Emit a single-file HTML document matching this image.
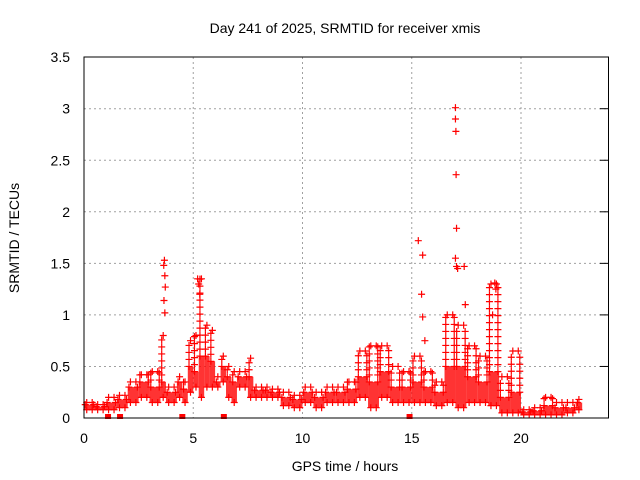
<!DOCTYPE html>
<html><head><meta charset="utf-8"><style>
html,body{margin:0;padding:0;background:#fff}
svg{display:block;font-family:"Liberation Sans",sans-serif}
</style></head><body>
<svg id="chart" width="640" height="480" viewBox="0 0 640 480">
<rect width="640" height="480" fill="#fff"/>
<text x="345" y="33" font-size="14" text-anchor="middle" fill="#000">Day 241 of 2025, SRMTID for receiver xmis</text>
<text x="345" y="471" font-size="14" text-anchor="middle" fill="#000">GPS time / hours</text>
<text transform="translate(19,238) rotate(-90)" font-size="14" text-anchor="middle" fill="#000">SRMTID / TECUs</text>
<g id="grid"></g>
<g id="marks"></g>
<rect x="84" y="57" width="524.5" height="361" fill="none" stroke="#000" stroke-width="1"/>
<g id="ticks"></g>
</svg>
<script>
const xTicks=[0,5,10,15,20];
const yTicks=[0,0.5,1,1.5,2,2.5,3,3.5];
const yTickLabels=["0","0.5","1","1.5","2","2.5","3","3.5"];
// binned cloud: time, low, dense-core top, high
const binT=[0,0.5,1,1.5,2,2.5,3,3.5,3.75,4.25,4.5,4.75,5,5.25,5.5,5.75,6,6.25,6.5,6.75,7,7.5,7.75,8.5,9,9.5,10,10.5,11,11.5,12,12.5,13,13.5,14,14.5,15,15.5,16,16.5,17,17.5,18,18.5,19,19.5,20,20.5,21,21.5,22,22.5];
const binLo=[0.08,0.08,0.08,0.1,0.15,0.2,0.15,0.2,0.15,0.2,0.15,0.25,0.3,0.2,0.3,0.3,0.3,0.35,0.2,0.15,0.3,0.2,0.2,0.2,0.12,0.1,0.15,0.1,0.15,0.15,0.15,0.2,0.1,0.2,0.15,0.15,0.15,0.15,0.12,0.15,0.1,0.15,0.15,0.12,0.05,0.05,0.03,0.03,0.03,0.03,0.05,0.08];
const binMid=[0.13,0.11,0.15,0.18,0.3,0.35,0.3,0.35,0.25,0.35,0.28,0.5,0.45,0.6,0.6,0.55,0.35,0.5,0.4,0.35,0.4,0.4,0.27,0.25,0.2,0.18,0.25,0.2,0.25,0.25,0.28,0.4,0.35,0.45,0.3,0.3,0.35,0.3,0.25,0.5,0.5,0.4,0.35,0.45,0.2,0.25,0.06,0.07,0.12,0.1,0.1,0.15];
const binHi=[0.15,0.13,0.2,0.22,0.35,0.42,0.45,0.8,0.3,0.4,0.35,0.75,0.8,1.35,0.9,0.85,0.4,0.6,0.5,0.45,0.45,0.58,0.3,0.28,0.25,0.22,0.3,0.25,0.3,0.3,0.35,0.65,0.7,0.7,0.5,0.45,0.6,0.45,0.35,1.0,0.9,0.7,0.6,1.3,0.4,0.65,0.08,0.1,0.2,0.15,0.15,0.18];
// isolated outliers
const spikeT=[3.65,3.68,3.7,3.72,3.66,3.7,5.2,5.25,5.3,15.3,15.5,15.45,15.5,15.6,17.0,17.0,17.02,17.03,17.05,17.0,17.05,17.1,17.4,17.45,18.8,18.85,18.7];
const spikeV=[1.48,1.53,1.38,1.27,1.14,1.02,1.35,1.3,1.2,1.72,1.58,1.2,0.98,0.75,3.01,2.9,2.78,2.36,1.84,1.55,1.47,1.45,1.47,1.1,1.31,1.25,1.0];
const zeroT=[1.1,1.65,4.5,6.4,14.9];
const xs=h=>84+h*21.85;
const ys=v=>418-v*103.1;
const NS='http://www.w3.org/2000/svg';
function mk(tag,at,parent){const e=document.createElementNS(NS,tag);for(const k in at)e.setAttribute(k,at[k]);parent.appendChild(e);return e;}
const grid=document.getElementById('grid'),ticks=document.getElementById('ticks'),marks=document.getElementById('marks');
xTicks.forEach(t=>{const x=xs(t);
 if(t>0){const g=mk('line',{x1:x,x2:x,y1:57,y2:418,stroke:'#a0a0a0','stroke-dasharray':'2,3'},grid);
 
 }
 const tk=mk('text',{x:x,y:443,'font-size':14,'text-anchor':'middle',fill:'#000'},ticks);tk.textContent=t;
 
 
});
yTicks.forEach((t,i)=>{const y=ys(t);
 if(t>0&&t<3.5){const g=mk('line',{x1:84,x2:608,y1:y,y2:y,stroke:'#a0a0a0','stroke-dasharray':'2,3'},grid);
 
 
 mk('line',{x1:600,x2:608,y1:y,y2:y,stroke:'#000'},ticks);}
 const tk=mk('text',{x:70,y:y+5,'font-size':14,'text-anchor':'end',fill:'#000'},ticks);tk.textContent=yTickLabels[i];
 
 
});
function plus(x,y,c){const p=mk('path',{d:`M${x-3.5},${y}h7M${x},${y-3.5}v7`,stroke:c,'stroke-width':1.2,fill:'none'},marks);
 
 }
for(let i=0;i<binT.length;i++){
 const t0=binT[i],t1=(i+1<binT.length?binT[i+1]:binT[i]+0.3);
 const x0=xs(t0),x1=xs(t1);
 const r=mk('rect',{x:x0,y:ys(binMid[i]),width:Math.max(1,x1-x0),height:Math.max(2,ys(binLo[i])-ys(binMid[i])),fill:'#ff0000',opacity:0.8},marks);
 
 
 const n=Math.max(1,Math.round((x1-x0)/5));
 for(let k=0;k<n;k++){
  const x=x0+(k+0.5)*(x1-x0)/n;
  plus(x,ys(binLo[i]),'#ff0000');
  const top=ys(binHi[i]),mid=ys(binMid[i]);
  // vertical column of markers from core top to high
  for(let y=mid;y>top;y-=7){plus(x+((k%2)?1.5:-1.5),y,'#ff0000');}
  plus(x,top,'#ff0000');
 }
}
spikeT.forEach((t,i)=>plus(xs(t),ys(spikeV[i]),'#ff0000'));
zeroT.forEach(t=>{const r=mk('rect',{x:xs(t)-3,y:414,width:6,height:5,fill:'#ff0000'},marks);
 
 });
</script>
</body></html>
